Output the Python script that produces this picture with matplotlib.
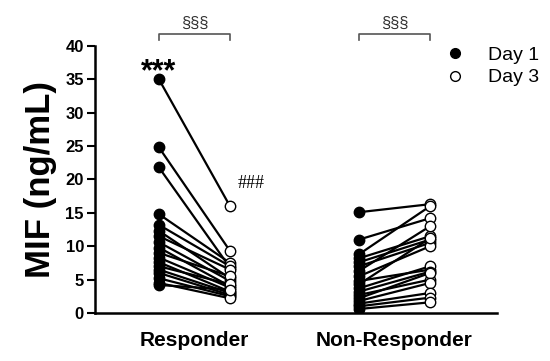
import matplotlib
matplotlib.use("Agg")
import matplotlib.pyplot as plt
from matplotlib.lines import Line2D

plt.rcParams['font.family'] = ['Liberation Sans', 'DejaVu Sans']

groups = ["Responder", "Non-Responder"]
resp_day1 = [35.0, 24.8, 21.8, 14.8, 13.2, 12.3, 11.5, 10.6, 9.8, 9.0, 8.3, 7.6, 7.0, 6.5, 6.0, 5.2, 4.5, 4.2]
resp_day3 = [16.0, 9.3, 6.8, 7.5, 7.0, 5.2, 6.5, 4.8, 4.0, 5.5, 3.8, 3.2, 4.3, 3.0, 2.7, 2.5, 2.2, 3.5]
nonr_day1 = [15.1, 11.0, 8.8, 8.2, 7.6, 7.0, 6.3, 5.5, 4.8, 4.3, 3.7, 3.2, 2.7, 2.2, 1.8, 1.4, 1.0, 0.6]
nonr_day3 = [16.3, 14.2, 16.0, 11.5, 11.0, 10.5, 13.0, 10.0, 6.5, 11.2, 7.0, 6.2, 5.0, 6.0, 4.5, 3.0, 2.3, 1.6]
yticks = [0, 5, 10, 15, 20, 25, 30, 35, 40]

fig = plt.figure(figsize=(5.5, 3.61), dpi=100)
ax = fig.add_axes([95/550, 48/361, (497-95)/550, (313-46)/361])

xpos = {"Responder": (0.0, 1.0), "Non-Responder": (2.817, 3.817)}
for g, d1, d3 in [("Responder", resp_day1, resp_day3), ("Non-Responder", nonr_day1, nonr_day3)]:
    x1, x3 = xpos[g]
    for a, b in zip(d1, d3):
        ax.plot([x1, x3], [a, b], color='black', lw=1.6, zorder=2)
    ax.plot([x1]*len(d1), d1, 'o', ms=7.5, color='black', zorder=3)
    ax.plot([x3]*len(d3), d3, 'o', ms=7.5, mfc='white', mec='black', mew=1.0, zorder=3)

ax.set_xlim(-0.901, 4.76)
ax.set_ylim(0, 40)
ax.set_yticks(yticks)
ax.set_yticklabels([str(t) for t in yticks], fontsize=12, fontweight='bold')
ax.set_xticks([0.5, 3.317])
ax.set_xticklabels(groups, fontsize=15, fontweight='bold')
ax.tick_params(axis='x', length=0, pad=13)
ax.tick_params(axis='y', length=6, width=1.5, pad=2)
for s in ['top', 'right']:
    ax.spines[s].set_visible(False)
for s in ['left', 'bottom']:
    ax.spines[s].set_linewidth(1.8)
ax.set_ylabel("MIF (ng/mL)", fontsize=25, fontweight='bold', labelpad=6)

# annotations
ax.text(0.0, 33.8, "***", ha='center', va='bottom', fontsize=22, fontweight='bold')
ax.text(1.3, 18.2, "###", ha='center', va='bottom', fontsize=13, family='Liberation Serif')

bracket_color = '#555555'
for x1, x3 in xpos.values():
    ybt = 41.8
    ax.plot([x1, x1, x3, x3], [ybt - 0.9, ybt, ybt, ybt - 0.9], color=bracket_color, lw=1.2, clip_on=False)
    ax.text((x1 + x3) / 2, ybt + 0.5, "§§§", ha='center', va='bottom', fontsize=12, color='#333333')

handles = [Line2D([], [], marker='o', ls='', color='black', ms=7),
           Line2D([], [], marker='o', ls='', mfc='white', mec='black', ms=7)]
fig.legend(handles, ["Day 1", "Day 3"], loc='upper left', bbox_to_anchor=(0.777, 0.893),
           frameon=False, fontsize=14, handletextpad=0.7, labelspacing=0.25, borderaxespad=0)

fig.savefig("out.png", dpi=100)
